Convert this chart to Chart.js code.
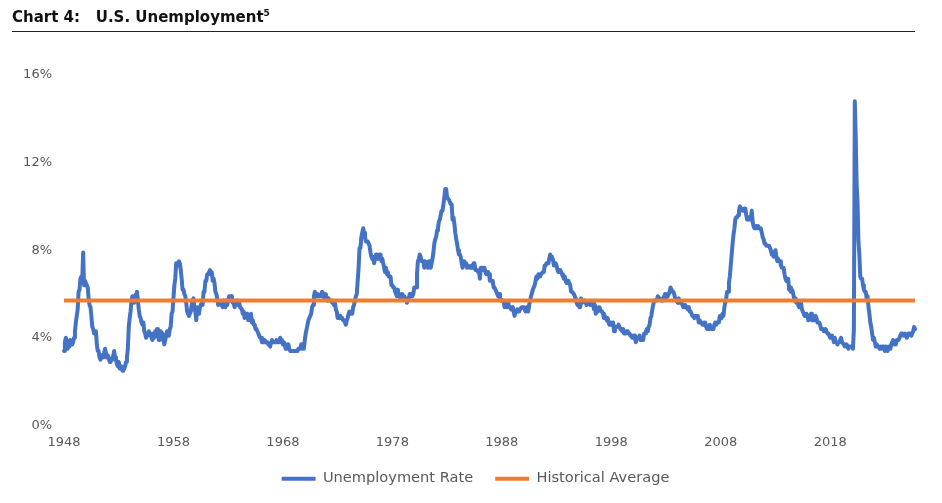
<!DOCTYPE html>
<html lang="en">
<head>
    <meta charset="UTF-8">
    <title>U.S. Unemployment</title>
    <script src="https://cdn.jsdelivr.net/npm/chart.js"></script>
    <style>
        body { margin: 0; background: #fff; }
        #wrap { position: relative; width: 942px; height: 503px; }
        #title {
            position: absolute; left: 12px; top: 8px; width: 903px;
            font: bold 15px "DejaVu Sans", sans-serif; color: #111;
            border-bottom: 1.5px solid #222; padding-bottom: 5px;
        }
        #title sup { font-size: 9px; }
        #unempChart { position: absolute; left: 0; top: 0; }
    </style>
</head>
<body>
    <div id="wrap">
        <canvas id="unempChart" width="942" height="503"></canvas>
        <div id="title">Chart 4:&nbsp;&nbsp; U.S. Unemployment<sup>5</sup></div>
    </div>

    <script type="text/javascript">
        // monthly unemployment rate (%), Jan 1948 onward, one array per decade
        var rate1940s = [
            3.4,3.8,4.0,3.9,3.5,3.6,3.6,3.9,3.8,3.7,3.8,4.0,
            4.3,4.7,5.0,5.3,6.1,6.2,6.7,6.8,6.6,7.9,6.4,6.6
        ];
        var rate1950s = [
            6.5,6.4,6.3,5.8,5.5,5.4,5.0,4.5,4.4,4.2,4.2,4.3,
            3.7,3.4,3.4,3.1,3.0,3.2,3.1,3.1,3.3,3.5,3.5,3.1,
            3.2,3.1,2.9,2.9,3.0,3.0,3.2,3.4,3.1,3.0,2.8,2.7,
            2.9,2.6,2.6,2.7,2.5,2.5,2.6,2.7,2.9,3.1,3.5,4.5,
            4.9,5.2,5.7,5.9,5.9,5.6,5.8,6.0,6.1,5.7,5.3,5.0,
            4.9,4.7,4.6,4.7,4.3,4.2,4.0,4.2,4.1,4.3,4.2,4.2,
            4.0,3.9,4.2,4.0,4.3,4.3,4.4,4.1,3.9,3.9,4.3,4.2,
            4.2,3.9,3.7,3.9,4.1,4.3,4.2,4.1,4.4,4.5,5.1,5.2,
            5.8,6.4,6.7,7.4,7.4,7.3,7.5,7.4,7.1,6.7,6.2,6.2,
            6.0,5.9,5.6,5.2,5.1,5.0,5.1,5.2,5.5,5.7,5.8,5.3
        ];
        var rate1960s = [
            5.2,4.8,5.4,5.2,5.1,5.4,5.5,5.6,5.5,6.1,6.1,6.6,
            6.6,6.9,6.9,7.0,7.1,6.9,7.0,6.6,6.7,6.5,6.1,6.0,
            5.8,5.5,5.6,5.6,5.5,5.5,5.4,5.7,5.6,5.4,5.7,5.5,
            5.7,5.9,5.7,5.7,5.9,5.6,5.6,5.4,5.5,5.5,5.7,5.5,
            5.6,5.4,5.4,5.3,5.1,5.2,4.9,5.0,5.1,5.1,4.8,5.0,
            4.9,5.1,4.7,4.8,4.6,4.6,4.4,4.4,4.3,4.2,4.1,4.0,
            4.0,3.8,3.8,3.8,3.9,3.8,3.8,3.8,3.7,3.7,3.6,3.8,
            3.9,3.8,3.8,3.8,3.8,3.9,3.8,3.8,3.8,4.0,3.9,3.8,
            3.7,3.8,3.7,3.5,3.5,3.7,3.7,3.5,3.4,3.4,3.4,3.4,
            3.4,3.4,3.4,3.4,3.4,3.5,3.5,3.5,3.7,3.7,3.5,3.5
        ];
        var rate1970s = [
            3.9,4.2,4.4,4.6,4.8,4.9,5.0,5.1,5.4,5.5,5.9,6.1,
            5.9,5.9,6.0,5.9,5.9,5.9,6.0,6.1,6.0,5.8,6.0,6.0,
            5.8,5.7,5.8,5.7,5.7,5.7,5.6,5.6,5.5,5.6,5.3,5.2,
            4.9,5.0,4.9,5.0,4.9,4.9,4.8,4.8,4.8,4.6,4.8,4.9,
            5.1,5.2,5.1,5.1,5.1,5.4,5.5,5.5,5.9,6.0,6.6,7.2,
            8.1,8.1,8.6,8.8,9.0,8.8,8.6,8.4,8.4,8.4,8.3,8.2,
            7.9,7.7,7.6,7.7,7.4,7.6,7.8,7.8,7.6,7.7,7.8,7.8,
            7.5,7.6,7.4,7.2,7.0,7.2,6.9,7.0,6.8,6.8,6.8,6.4,
            6.4,6.3,6.3,6.1,6.0,5.9,6.2,5.9,6.0,5.8,5.9,6.0,
            5.9,5.9,5.8,5.8,5.6,5.7,5.7,6.0,5.9,6.0,5.9,6.0
        ];
        var rate1980s = [
            6.3,6.3,6.3,6.9,7.5,7.6,7.8,7.7,7.5,7.5,7.5,7.2,
            7.5,7.4,7.4,7.2,7.5,7.5,7.2,7.4,7.6,7.9,8.3,8.5,
            8.6,8.9,9.0,9.3,9.4,9.6,9.8,9.8,10.1,10.4,10.8,10.8,
            10.4,10.4,10.3,10.2,10.1,10.1,9.4,9.5,9.2,8.8,8.5,8.3,
            8.0,7.8,7.8,7.7,7.4,7.2,7.5,7.5,7.3,7.4,7.2,7.3,
            7.3,7.2,7.2,7.3,7.2,7.4,7.4,7.1,7.1,7.1,7.0,7.0,
            6.7,7.2,7.2,7.1,7.2,7.2,7.0,6.9,7.0,7.0,6.9,6.6,
            6.6,6.6,6.6,6.3,6.3,6.2,6.1,6.0,5.9,6.0,5.8,5.7,
            5.7,5.7,5.7,5.4,5.6,5.4,5.4,5.6,5.4,5.4,5.3,5.3,
            5.4,5.2,5.0,5.2,5.2,5.3,5.2,5.2,5.3,5.3,5.4,5.4
        ];
        var rate1990s = [
            5.4,5.3,5.2,5.4,5.4,5.2,5.5,5.7,5.9,5.9,6.2,6.3,
            6.4,6.6,6.8,6.7,6.9,6.9,6.8,6.9,6.9,7.0,7.0,7.3,
            7.3,7.4,7.4,7.4,7.6,7.8,7.7,7.6,7.6,7.3,7.4,7.4,
            7.3,7.1,7.0,7.1,7.1,7.0,6.9,6.8,6.7,6.8,6.6,6.5,
            6.6,6.6,6.5,6.4,6.1,6.1,6.1,6.0,5.9,5.8,5.6,5.5,
            5.6,5.4,5.4,5.8,5.6,5.6,5.7,5.7,5.6,5.5,5.6,5.6,
            5.6,5.5,5.5,5.6,5.6,5.3,5.5,5.1,5.2,5.2,5.4,5.4,
            5.3,5.2,5.2,5.1,4.9,5.0,4.9,4.8,4.9,4.7,4.6,4.7,
            4.6,4.6,4.7,4.3,4.4,4.5,4.5,4.5,4.6,4.5,4.4,4.4,
            4.3,4.4,4.2,4.3,4.2,4.3,4.3,4.2,4.2,4.1,4.1,4.0
        ];
        var rate2000s = [
            4.0,4.1,4.0,3.8,4.0,4.0,4.0,4.1,3.9,3.9,3.9,3.9,
            4.2,4.2,4.3,4.4,4.3,4.5,4.6,4.9,5.0,5.3,5.5,5.7,
            5.7,5.7,5.7,5.9,5.8,5.8,5.8,5.7,5.7,5.7,5.9,6.0,
            5.8,5.9,5.9,6.0,6.1,6.3,6.2,6.1,6.1,6.0,5.8,5.7,
            5.7,5.6,5.8,5.6,5.6,5.6,5.5,5.4,5.4,5.5,5.4,5.4,
            5.3,5.4,5.2,5.2,5.1,5.0,5.0,4.9,5.0,5.0,5.0,4.9,
            4.7,4.8,4.7,4.7,4.6,4.6,4.7,4.7,4.5,4.4,4.5,4.4,
            4.6,4.5,4.4,4.5,4.4,4.6,4.7,4.6,4.7,4.7,4.7,5.0,
            5.0,4.9,5.1,5.0,5.4,5.6,5.8,6.1,6.1,6.5,6.8,7.3,
            7.8,8.3,8.7,9.0,9.4,9.5,9.5,9.6,9.8,10.0,9.9,9.9
        ];
        var rate2010s = [
            9.8,9.8,9.9,9.9,9.6,9.4,9.4,9.5,9.5,9.4,9.8,9.3,
            9.1,9.0,9.0,9.1,9.0,9.1,9.0,9.0,9.0,8.8,8.6,8.5,
            8.3,8.3,8.2,8.2,8.2,8.2,8.2,8.0,7.8,7.8,7.7,7.9,
            8.0,7.7,7.5,7.6,7.5,7.5,7.3,7.2,7.2,7.2,6.9,6.7,
            6.6,6.7,6.7,6.2,6.3,6.1,6.2,6.1,5.9,5.7,5.8,5.6,
            5.7,5.5,5.4,5.4,5.6,5.3,5.2,5.1,5.0,5.0,5.1,5.0,
            4.8,4.9,5.0,5.1,4.8,4.9,4.8,4.9,5.0,4.9,4.7,4.7,
            4.7,4.6,4.4,4.4,4.4,4.3,4.3,4.4,4.3,4.2,4.2,4.1,
            4.0,4.1,4.0,4.0,3.8,4.0,3.8,3.8,3.7,3.8,3.8,3.9,
            4.0,3.8,3.8,3.7,3.6,3.6,3.7,3.6,3.5,3.6,3.6,3.6
        ];
        var rate2020s = [
            3.6,3.5,4.4,14.8,13.2,11.0,10.2,8.4,7.8,6.8,6.7,6.7,
            6.4,6.2,6.1,6.1,5.8,5.9,5.4,5.1,4.7,4.5,4.2,3.9,
            4.0,3.8,3.6,3.7,3.6,3.6,3.5,3.6,3.5,3.6,3.6,3.5,
            3.4,3.6,3.5,3.4,3.6,3.6,3.5,3.7,3.8,3.9,3.7,3.8,
            3.7,3.9,3.9,3.9,4.0,4.1,4.2,4.2,4.1,4.1,4.2,4.1,
            4.0,4.1,4.2,4.2,4.2,4.1,4.2,4.3,4.5,4.4
        ];
        var historicalAverage = 5.7;
        var startYear = 1948;
        var labelEvery = 10; // years between x labels

        var rates = [].concat(rate1940s, rate1950s, rate1960s, rate1970s,
            rate1980s, rate1990s, rate2000s, rate2010s, rate2020s);

        // month labels like "1948-01"
        var months = [];
        for (var i = 0; i < rates.length; i++) {
            var yr = startYear + Math.floor(i / 12);
            var mo = (i % 12) + 1;
            months.push(yr + "-" + (mo < 10 ? "0" + mo : mo));
        }

        var ctx = document.getElementById("unempChart").getContext("2d");
        var tickColor = "#595959";
        var tickFont = { family: "DejaVu Sans", size: 13 };

        // nudge the legend a bit right, the original centres it under the plot
        var legendShift = {
            id: "legendShift",
            afterLayout: function(chart) {
                if (chart.legend) chart.legend.left += 36;
            }
        };

        var chart = new Chart(ctx, {
            type: "line",
            data: {
                labels: months,
                datasets: [{
                    label: "Unemployment Rate",
                    data: rates,
                    borderColor: "#4472C4",
                    backgroundColor: "#4472C4",
                    borderWidth: 4,
                    borderJoinStyle: "round",
                    borderCapStyle: "round",
                    pointRadius: 0,
                    tension: 0,
                    order: 1
                }, {
                    label: "Historical Average",
                    data: [
                        { x: months[0], y: historicalAverage },
                        { x: months[months.length - 1], y: historicalAverage }
                    ],
                    borderColor: "#ED7D31",
                    backgroundColor: "#ED7D31",
                    borderWidth: 4,
                    pointRadius: 0,
                    order: 0
                }]
            },
            plugins: [legendShift],
            options: {
                responsive: false,
                animation: false,
                layout: { padding: { top: 75, right: 27, left: 0, bottom: 7 } },
                plugins: {
                    title: { display: false },
                    tooltip: { enabled: false },
                    legend: {
                        position: "bottom",
                        labels: {
                            color: tickColor,
                            font: { family: "DejaVu Sans", size: 14.6 },
                            usePointStyle: true,
                            pointStyle: "line",
                            pointStyleWidth: 34,
                            boxHeight: 15,
                            padding: 22,
                            sort: function(a, b) { return a.datasetIndex - b.datasetIndex; }
                        }
                    }
                },
                scales: {
                    x: {
                        grid: { display: false, drawTicks: false },
                        border: { display: false },
                        ticks: {
                            color: tickColor,
                            font: tickFont,
                            autoSkip: false,
                            maxRotation: 0,
                            padding: 9,
                            callback: function(value, index) {
                                var lbl = months[index];
                                var yr = +lbl.slice(0, 4);
                                if (lbl.slice(5) === "01" && (yr - startYear) % labelEvery === 0) return String(yr);
                                return null;
                            }
                        },
                        afterFit: function(scale) { scale.height = 24; }
                    },
                    y: {
                        min: 0,
                        max: 16,
                        grid: { display: false, drawTicks: false },
                        border: { display: false },
                        ticks: {
                            stepSize: 4,
                            color: tickColor,
                            font: tickFont,
                            padding: 12,
                            callback: function(v) { return v + "%"; }
                        },
                        afterFit: function(scale) { scale.width = 64; }
                    }
                }
            }
        });
    </script>
</body>
</html>
